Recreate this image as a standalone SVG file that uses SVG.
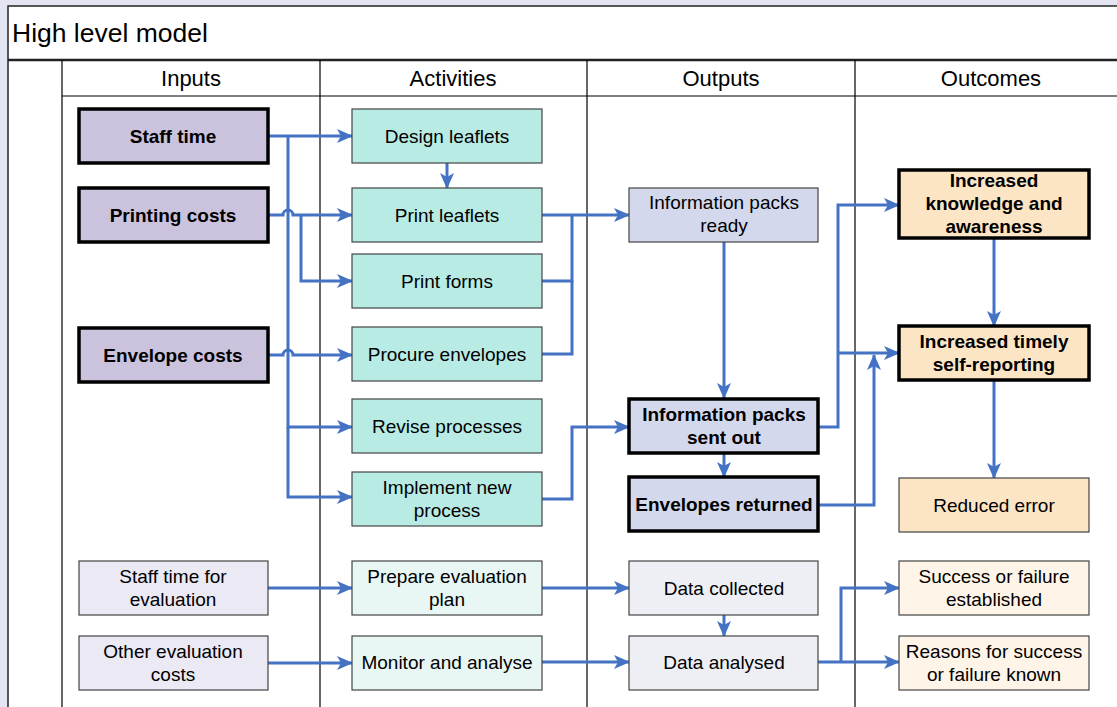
<svg xmlns="http://www.w3.org/2000/svg" width="1117" height="707" viewBox="0 0 1117 707">
<defs>
<marker id="ah" markerUnits="userSpaceOnUse" markerWidth="16" markerHeight="14" refX="15" refY="7" orient="auto">
<path d="M0,0 L16,7 L0,14 L4,7 Z" fill="#4472c4"/>
</marker>
<style>
text{font-family:"Liberation Sans",Arial,sans-serif;fill:#000}
.t{font-size:19px;text-anchor:middle}
.b{font-weight:bold}
.h{font-size:22px;text-anchor:middle}
.grid{stroke:#000;stroke-width:1.2;fill:none}
.in{fill:#cbc2dd;stroke:#000;stroke-width:3.5}
.in2{fill:#ebe9f4;stroke:#444;stroke-width:1.2}
.act{fill:#b9ebe5;stroke:#444;stroke-width:1.2}
.act2{fill:#e8f6f4;stroke:#444;stroke-width:1.2}
.out{fill:#d4d8ed;stroke:#444;stroke-width:1.2}
.outb{fill:#d4d8ed;stroke:#000;stroke-width:3.5}
.out2{fill:#eeeff4;stroke:#444;stroke-width:1.2}
.oc{fill:#fce5c5;stroke:#000;stroke-width:3.5}
.oct{fill:#fce5c5;stroke:#444;stroke-width:1.2}
.oc2{fill:#fff4e8;stroke:#444;stroke-width:1.2}
.c{stroke:#4472c4;stroke-width:3;fill:none}
.ca{stroke:#4472c4;stroke-width:3;fill:none;marker-end:url(#ah)}
</style>
</defs>
<rect x="0" y="0" width="1117" height="707" fill="#e3e6f2"/>
<g id="frame">
<rect x="8" y="6" width="1120" height="710" fill="#fff" stroke="#222" stroke-width="1.5"/>
<text x="12" y="42" style="font-size:26.5px">High level model</text>
<line x1="8" y1="60" x2="1117" y2="60" stroke="#222" stroke-width="2.5"/>
<line class="grid" x1="62" y1="60" x2="62" y2="707"/>
<line class="grid" x1="320" y1="60" x2="320" y2="707"/>
<line class="grid" x1="587" y1="60" x2="587" y2="707"/>
<line class="grid" x1="855" y1="60" x2="855" y2="707"/>
<line class="grid" x1="62" y1="96" x2="1117" y2="96"/>
<text class="h" x="191" y="86">Inputs</text>
<text class="h" x="453" y="86">Activities</text>
<text class="h" x="721" y="86">Outputs</text>
<text class="h" x="991" y="86">Outcomes</text>
</g>
<g id="connectors">
<path class="ca" d="M268,136 H352"/>
<path class="ca" d="M288,136 V427 H352"/>
<path class="ca" d="M288,427 V497 H352"/>
<path class="ca" d="M268,215 H283 A5,5 0 0 1 293,215 H352"/>
<path class="ca" d="M301,215 V281 H352"/>
<path class="ca" d="M268,355 H283 A5,5 0 0 1 293,355 H352"/>
<path class="ca" d="M447,163 V188"/>
<path class="ca" d="M542,215 H629"/>
<path class="c" d="M542,281 H572 V215"/>
<path class="c" d="M542,354 H572 V281"/>
<path class="ca" d="M542,499 H572 V427 H629"/>
<path class="ca" d="M724,242 V398"/>
<path class="ca" d="M724,453 V477"/>
<path class="ca" d="M818,427 H838 V205 H899"/>
<path class="ca" d="M838,353 H899"/>
<path class="ca" d="M818,505 H874 V355"/>
<path class="ca" d="M994,238 V326"/>
<path class="ca" d="M994,380 V478"/>
<path class="ca" d="M268,588 H352"/>
<path class="ca" d="M268,663 H352"/>
<path class="ca" d="M542,588 H629"/>
<path class="ca" d="M542,662 H629"/>
<path class="ca" d="M724,615 V636"/>
<path class="ca" d="M818,662 H899"/>
<path class="ca" d="M841,662 V588 H899"/>
</g>
<g id="staff-time"><rect class="in" x="79" y="109" width="189" height="54"/><text class="t b" x="173" y="143">Staff time</text></g>
<g id="printing-costs"><rect class="in" x="79" y="188" width="189" height="54"/><text class="t b" x="173" y="222">Printing costs</text></g>
<g id="envelope-costs"><rect class="in" x="79" y="328" width="189" height="54"/><text class="t b" x="173" y="362">Envelope costs</text></g>
<g id="staff-time-eval"><rect class="in2" x="79" y="561" width="189" height="54"/><text class="t" x="173" y="583">Staff time for</text><text class="t" x="173" y="606">evaluation</text></g>
<g id="other-eval-costs"><rect class="in2" x="79" y="636" width="189" height="54"/><text class="t" x="173" y="658">Other evaluation</text><text class="t" x="173" y="681">costs</text></g>
<g id="design-leaflets"><rect class="act" x="352" y="109" width="190" height="54"/><text class="t" x="447" y="143">Design leaflets</text></g>
<g id="print-leaflets"><rect class="act" x="352" y="188" width="190" height="54"/><text class="t" x="447" y="222">Print leaflets</text></g>
<g id="print-forms"><rect class="act" x="352" y="254" width="190" height="54"/><text class="t" x="447" y="288">Print forms</text></g>
<g id="procure-envelopes"><rect class="act" x="352" y="327" width="190" height="54"/><text class="t" x="447" y="361">Procure envelopes</text></g>
<g id="revise-processes"><rect class="act" x="352" y="399" width="190" height="54"/><text class="t" x="447" y="433">Revise processes</text></g>
<g id="implement-new-process"><rect class="act" x="352" y="472" width="190" height="54"/><text class="t" x="447" y="494">Implement new</text><text class="t" x="447" y="517">process</text></g>
<g id="prepare-eval-plan"><rect class="act2" x="352" y="561" width="190" height="54"/><text class="t" x="447" y="583">Prepare evaluation</text><text class="t" x="447" y="606">plan</text></g>
<g id="monitor-analyse"><rect class="act2" x="352" y="636" width="190" height="54"/><text class="t" x="447" y="669">Monitor and analyse</text></g>
<g id="info-packs-ready"><rect class="out" x="629" y="188" width="189" height="54"/><text class="t" x="724" y="209">Information packs</text><text class="t" x="724" y="232">ready</text></g>
<g id="info-packs-sent"><rect class="outb" x="629" y="399" width="189" height="54"/><text class="t b" x="724" y="421">Information packs</text><text class="t b" x="724" y="444">sent out</text></g>
<g id="envelopes-returned"><rect class="outb" x="629" y="477" width="189" height="54"/><text class="t b" x="724" y="511">Envelopes returned</text></g>
<g id="data-collected"><rect class="out2" x="629" y="561" width="189" height="54"/><text class="t" x="724" y="595">Data collected</text></g>
<g id="data-analysed"><rect class="out2" x="629" y="636" width="189" height="54"/><text class="t" x="724" y="669">Data analysed</text></g>
<g id="increased-knowledge"><rect class="oc" x="899" y="170" width="190" height="68"/><text class="t b" x="994" y="187">Increased</text><text class="t b" x="994" y="210">knowledge and</text><text class="t b" x="994" y="233">awareness</text></g>
<g id="increased-self-reporting"><rect class="oc" x="899" y="326" width="190" height="54"/><text class="t b" x="994" y="348">Increased timely</text><text class="t b" x="994" y="371">self-reporting</text></g>
<g id="reduced-error"><rect class="oct" x="899" y="478" width="190" height="54"/><text class="t" x="994" y="512">Reduced error</text></g>
<g id="success-failure"><rect class="oc2" x="899" y="561" width="190" height="54"/><text class="t" x="994" y="583">Success or failure</text><text class="t" x="994" y="606">established</text></g>
<g id="reasons-known"><rect class="oc2" x="899" y="636" width="190" height="54"/><text class="t" x="994" y="658">Reasons for success</text><text class="t" x="994" y="681">or failure known</text></g>
</svg>
